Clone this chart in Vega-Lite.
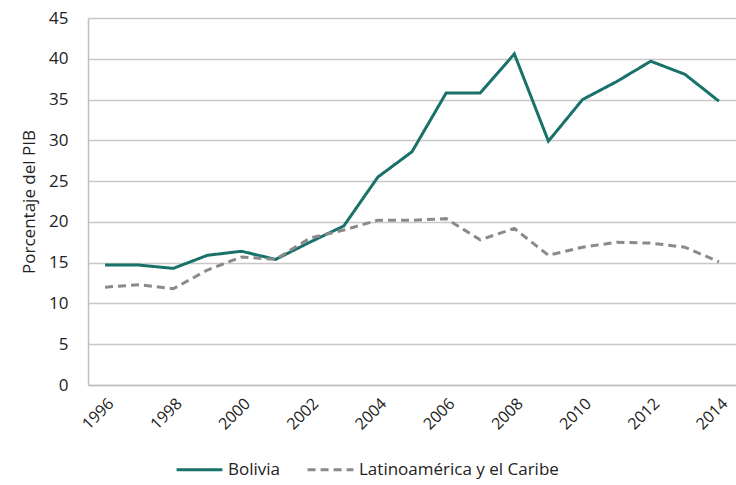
{
  "$schema": "https://vega.github.io/schema/vega-lite/v6.json",
  "width": 648,
  "height": 367,
  "autosize": {"type": "none"},
  "padding": {"left": 88, "top": 18, "right": 0, "bottom": 100},
  "background": "white",
  "config": {
    "view": {"stroke": null},
    "font": "Open Sans",
    "axis": {"labelFont": "Open Sans", "titleFont": "Open Sans", "labelColor": "#222", "titleColor": "#222"}
  },
  "data": {
    "values": [
      {"year": 1996, "serie": "Bolivia", "valor": 14.7},
      {"year": 1997, "serie": "Bolivia", "valor": 14.7},
      {"year": 1998, "serie": "Bolivia", "valor": 14.3},
      {"year": 1999, "serie": "Bolivia", "valor": 15.9},
      {"year": 2000, "serie": "Bolivia", "valor": 16.4},
      {"year": 2001, "serie": "Bolivia", "valor": 15.4},
      {"year": 2002, "serie": "Bolivia", "valor": 17.5},
      {"year": 2003, "serie": "Bolivia", "valor": 19.5},
      {"year": 2004, "serie": "Bolivia", "valor": 25.5},
      {"year": 2005, "serie": "Bolivia", "valor": 28.6},
      {"year": 2006, "serie": "Bolivia", "valor": 35.8},
      {"year": 2007, "serie": "Bolivia", "valor": 35.8},
      {"year": 2008, "serie": "Bolivia", "valor": 40.6},
      {"year": 2009, "serie": "Bolivia", "valor": 29.9},
      {"year": 2010, "serie": "Bolivia", "valor": 35.0},
      {"year": 2011, "serie": "Bolivia", "valor": 37.2},
      {"year": 2012, "serie": "Bolivia", "valor": 39.7},
      {"year": 2013, "serie": "Bolivia", "valor": 38.1},
      {"year": 2014, "serie": "Bolivia", "valor": 34.8},
      {"year": 1996, "serie": "Latinoamérica y el Caribe", "valor": 12.0},
      {"year": 1997, "serie": "Latinoamérica y el Caribe", "valor": 12.3},
      {"year": 1998, "serie": "Latinoamérica y el Caribe", "valor": 11.8},
      {"year": 1999, "serie": "Latinoamérica y el Caribe", "valor": 14.1},
      {"year": 2000, "serie": "Latinoamérica y el Caribe", "valor": 15.7},
      {"year": 2001, "serie": "Latinoamérica y el Caribe", "valor": 15.4},
      {"year": 2002, "serie": "Latinoamérica y el Caribe", "valor": 18.0},
      {"year": 2003, "serie": "Latinoamérica y el Caribe", "valor": 19.0},
      {"year": 2004, "serie": "Latinoamérica y el Caribe", "valor": 20.2},
      {"year": 2005, "serie": "Latinoamérica y el Caribe", "valor": 20.2},
      {"year": 2006, "serie": "Latinoamérica y el Caribe", "valor": 20.4},
      {"year": 2007, "serie": "Latinoamérica y el Caribe", "valor": 17.8},
      {"year": 2008, "serie": "Latinoamérica y el Caribe", "valor": 19.2},
      {"year": 2009, "serie": "Latinoamérica y el Caribe", "valor": 15.9},
      {"year": 2010, "serie": "Latinoamérica y el Caribe", "valor": 16.9},
      {"year": 2011, "serie": "Latinoamérica y el Caribe", "valor": 17.5},
      {"year": 2012, "serie": "Latinoamérica y el Caribe", "valor": 17.4},
      {"year": 2013, "serie": "Latinoamérica y el Caribe", "valor": 16.9},
      {"year": 2014, "serie": "Latinoamérica y el Caribe", "valor": 15.1}
    ]
  },
  "mark": {"type": "line", "strokeWidth": 3},
  "encoding": {
    "x": {
      "field": "year",
      "type": "ordinal",
      "scale": {"type": "point", "padding": 0.5},
      "axis": {
        "title": null,
        "values": [1996, 1998, 2000, 2002, 2004, 2006, 2008, 2010, 2012, 2014],
        "labelAngle": -45,
        "labelFontSize": 16,
        "labelPadding": 10,
        "ticks": false,
        "grid": false,
        "domainColor": "#bfbfbf",
        "domainWidth": 1.5
      }
    },
    "y": {
      "field": "valor",
      "type": "quantitative",
      "scale": {"domain": [0, 45]},
      "axis": {
        "title": "Porcentaje del  PIB",
        "titleFontSize": 17,
        "titleFontWeight": "normal",
        "titlePadding": 10,
        "values": [0, 5, 10, 15, 20, 25, 30, 35, 40, 45],
        "labelFontSize": 17,
        "labelPadding": 20,
        "ticks": false,
        "grid": true,
        "gridColor": "#c8c8c8",
        "gridWidth": 1.5,
        "domainColor": "#bfbfbf",
        "domainWidth": 1.5
      }
    },
    "color": {
      "field": "serie",
      "type": "nominal",
      "scale": {"domain": ["Bolivia", "Latinoamérica y el Caribe"], "range": ["#19726a", "#8a8a8a"]},
      "legend": {
        "title": null,
        "orient": "none",
        "direction": "horizontal",
        "legendX": 87,
        "legendY": 427,
        "symbolType": "stroke",
        "symbolSize": 2100,
        "symbolStrokeWidth": 3,
        "labelFontSize": 17,
        "labelLimit": 400,
        "labelColor": "#222",
        "columnPadding": 20,
        "labelOffset": 4
      }
    },
    "strokeDash": {
      "field": "serie",
      "type": "nominal",
      "scale": {"domain": ["Bolivia", "Latinoamérica y el Caribe"], "range": [[1, 0], [8, 5]]},
      "legend": null
    }
  }
}
